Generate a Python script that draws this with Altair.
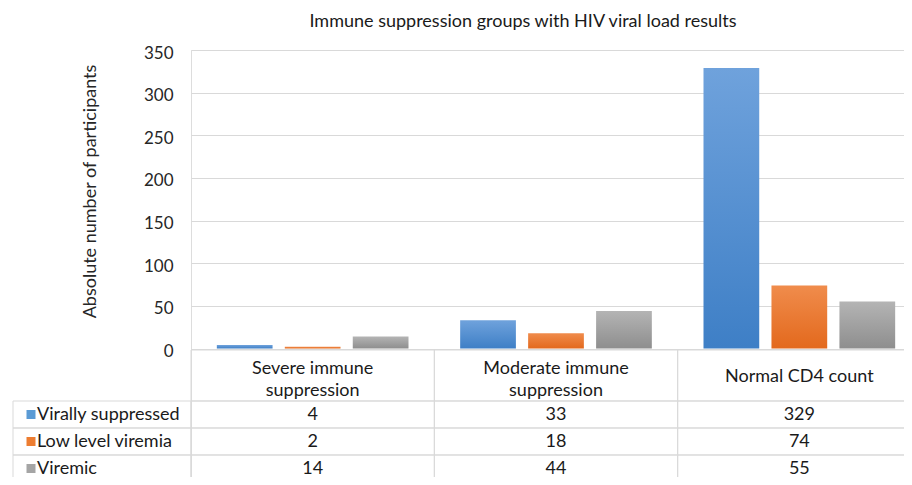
import altair as alt
import pandas as pd

# ---- data ----
categories = ["Severe immune suppression", "Moderate immune suppression", "Normal CD4 count"]
header_labels = ["Severe immune\nsuppression", "Moderate immune\nsuppression", "Normal CD4 count"]
series = ["Virally suppressed", "Low level viremia", "Viremic"]
virally_suppressed = [4, 33, 329]
low_level_viremia = [2, 18, 74]
viremic = [14, 44, 55]
y_ticks = [0, 50, 100, 150, 200, 250, 300, 350]

values_by_series = [virally_suppressed, low_level_viremia, viremic]
long_df = pd.DataFrame(
    [{"category": c, "series": s, "value": v}
     for s, vals in zip(series, values_by_series)
     for c, v in zip(categories, vals)]
)
cat_df = pd.DataFrame({"category": categories, "header": header_labels, "row": ["hdr"] * len(categories)})
ser_df = pd.DataFrame({"series": series})

# ---- styling ----
W, H = 730, 427
FONT = "Lato"
FS = 18
GRID = "#d9d9d9"
TXT = "#1a1a1a"
flat_colors = ["#5B9BD5", "#ED7D31", "#A5A5A5"]
grad_stops = [("#6fa2dc", "#3e7fc6"), ("#f08c4c", "#e3691d"), ("#b4b4b4", "#8e8e8e")]

x_enc = alt.X("category:N", scale=alt.Scale(domain=categories, paddingInner=0, paddingOuter=0), axis=None)
xoff_enc = alt.XOffset("series:N", scale=alt.Scale(domain=series, paddingInner=0.18, paddingOuter=0.38))
value_scale = alt.Scale(domain=[0, 350], range=[298.5, 0])
y_axis = alt.Axis(
    values=y_ticks, grid=True, gridColor=GRID, domain=False, ticks=False,
    labelPadding=18, labelOffset=3, labelFont=FONT, labelFontSize=17, labelColor="#262626",
    title="Absolute number of participants", titleFont=FONT, titleFontSize=FS,
    titleFontWeight="normal", titleColor="#262626", titleX=-101, titleY=141,
    titleBaseline="middle", titleAngle=270,
)

bar_layers = []
for s, (c0, c1) in zip(series, grad_stops):
    grad = alt.LinearGradient(
        gradient="linear",
        stops=[alt.GradientStop(color=c0, offset=0), alt.GradientStop(color=c1, offset=1)],
        x1=0, x2=0, y1=0, y2=1,
    )
    bar_layers.append(
        alt.Chart(long_df).transform_filter(alt.datum.series == s).mark_bar(color=grad).encode(
            x=x_enc, xOffset=xoff_enc,
            y=alt.Y("value:Q", scale=value_scale, axis=y_axis),
        )
    )
bars = alt.layer(*bar_layers)

# ---- header row of the data table ----
LH = 22
hdr_y = alt.Y("row:N", scale=alt.Scale(type="band", domain=["hdr"], range=[300, 351], paddingInner=0, paddingOuter=0), axis=None)
hdr_cells = alt.Chart(cat_df).mark_rect(fillOpacity=0, stroke=GRID, strokeWidth=1).encode(x=x_enc, y=hdr_y)
hdr_two = alt.Chart(cat_df).transform_filter("indexof(datum.header, '\\n') >= 0").mark_text(
    font=FONT, fontSize=FS, color=TXT, lineBreak="\n", lineHeight=LH, baseline="middle", dy=-7
).encode(x=x_enc, y=hdr_y, text="header:N")
hdr_one = alt.Chart(cat_df).transform_filter("indexof(datum.header, '\\n') < 0").mark_text(
    font=FONT, fontSize=FS, color=TXT, baseline="middle", dy=1
).encode(x=x_enc, y=hdr_y, text="header:N")
header = alt.layer(hdr_cells, hdr_two, hdr_one)

# ---- body of the data table ----
body_y = alt.Y("series:N", scale=alt.Scale(type="band", domain=series, range=[351, 432], paddingInner=0, paddingOuter=0), axis=None)
color_enc = alt.Color("series:N", scale=alt.Scale(domain=series, range=flat_colors), legend=None)
body_cells = alt.Chart(long_df).mark_rect(fillOpacity=0, stroke=GRID, strokeWidth=1).encode(x=x_enc, y=body_y)
label_cells = alt.Chart(ser_df).mark_rect(fillOpacity=0, stroke=GRID, strokeWidth=1).encode(
    x=alt.value(-178), x2=alt.value(0), y=body_y)
body_text = alt.Chart(long_df).mark_text(font=FONT, fontSize=FS, color=TXT, baseline="middle").encode(
    x=x_enc, y=body_y, text="value:Q")
label_squares = alt.Chart(ser_df).mark_point(shape="square", filled=True, size=81, opacity=1).encode(
    x=alt.value(-160), y=body_y, color=color_enc)
label_text = alt.Chart(ser_df).mark_text(font=FONT, fontSize=FS, color=TXT, align="left", baseline="middle").encode(
    x=alt.value(-154), y=body_y, text="series:N")
body = alt.layer(body_cells, label_cells, body_text, label_squares, label_text)

chart = alt.layer(bars, header, body).resolve_scale(y="independent").properties(
    width=W, height=H,
    autosize="none",
    padding={"left": 183, "top": 42, "right": -17, "bottom": 0},
    title=alt.TitleParams(
        "Immune suppression groups with HIV viral load results",
        font=FONT, fontSize=FS, fontWeight="normal", color=TXT,
        anchor="middle", frame="group", dx=-33, offset=13,
    ),
).configure_view(stroke=None).configure(background="white")

chart.save("out.html", embed_options={"renderer": "svg", "actions": False})
